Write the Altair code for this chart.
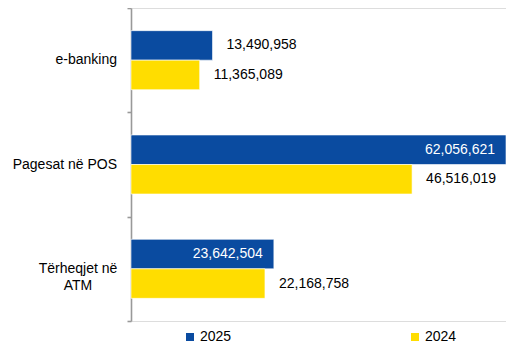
import altair as alt
import pandas as pd

categories = ["e-banking", "Pagesat në POS", "Tërheqjet në ATM"]
years = ["2025", "2024"]
values_2025 = [13490958, 62056621, 23642504]
values_2024 = [11365089, 46516019, 22168758]
colors = ["#0A4BA0", "#FFDD00"]

df = pd.DataFrame({
    "category": categories * 2,
    "year": [years[0]] * 3 + [years[1]] * 3,
    "value": values_2025 + values_2024,
})
cat_df = pd.DataFrame({"category": categories})

FONT = "Liberation Sans"
xmax = max(values_2025 + values_2024)

y_scale = alt.Scale(domain=categories, paddingInner=0, paddingOuter=0)

y_enc = alt.Y(
    "category:N",
    sort=categories,
    scale=y_scale,
    axis=alt.Axis(
        title=None,
        labels=False,
        domainColor="#999999",
        domainWidth=1.6,
        tickColor="#999999",
        tickWidth=1.6,
        tickSize=4,
        tickBand="extent",
    ),
)
yoff_enc = alt.YOffset(
    "year:N",
    sort=years,
    scale=alt.Scale(domain=years, paddingInner=0, paddingOuter=0.768),
)
x_enc = alt.X(
    "value:Q",
    scale=alt.Scale(domain=[0, xmax], nice=False, zero=True),
    axis=None,
)

base = alt.Chart(df).encode(y=y_enc, yOffset=yoff_enc, x=x_enc)

bars = base.mark_bar(stroke="#ffffff", strokeWidth=0.6).encode(
    color=alt.Color(
        "year:N",
        sort=years,
        scale=alt.Scale(domain=years, range=colors),
        legend=alt.Legend(
            title=None,
            orient="none",
            direction="horizontal",
            legendX=52,
            legendY=322,
            symbolType="square",
            symbolSize=64,
            symbolStrokeWidth=0,
            labelFont=FONT,
            labelFontSize=14,
            labelColor="#000000",
            labelOffset=3,
            columnPadding=176,
        ),
    )
)

inside_expr = "datum.year == '2025' && datum.value > 20000000"

labels_out = base.transform_calculate(inside=inside_expr).transform_filter(
    "!datum.inside"
).mark_text(
    align="left", baseline="middle", dx=14, font=FONT, fontSize=14, color="#000000"
).encode(text=alt.Text("value:Q", format=","))

labels_in = base.transform_calculate(inside=inside_expr).transform_filter(
    "datum.inside"
).mark_text(
    align="right", baseline="middle", dx=-11, font=FONT, fontSize=14, color="#ffffff"
).encode(text=alt.Text("value:Q", format=","))

cat_base = alt.Chart(cat_df).transform_calculate(
    lbl="datum.category == 'Tërheqjet në ATM' ? 'Tërheqjet në|ATM' : datum.category",
    multi="datum.category == 'Tërheqjet në ATM'",
)

cat_right = cat_base.transform_filter("!datum.multi").mark_text(
    align="right", baseline="middle", font=FONT, fontSize=14, color="#000000"
).encode(
    y=alt.Y("category:N", sort=categories, scale=y_scale),
    x=alt.value(-14),
    text="lbl:N",
)

cat_center = cat_base.transform_filter("datum.multi").mark_text(
    align="center", baseline="middle", font=FONT, fontSize=14, color="#000000",
    lineBreak="|", lineHeight=17,
).encode(
    y=alt.Y("category:N", sort=categories, scale=y_scale),
    x=alt.value(-53),
    text="lbl:N",
)

chart = alt.layer(bars, labels_out, labels_in, cat_right, cat_center).properties(
    width=375,
    height=313,
    autosize=alt.AutoSizeParams(type="none"),
    padding={"left": 123, "top": 0, "right": 0, "bottom": 24},
).configure_view(stroke=None).configure(font=FONT)

chart.save("out.html", embed_options={"renderer": "svg", "actions": False})
